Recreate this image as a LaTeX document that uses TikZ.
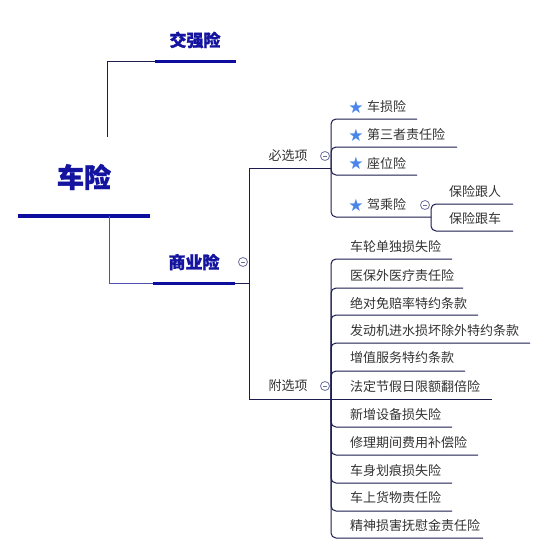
\documentclass[tikz,border=0pt]{standalone}
\usepackage{fontspec}
\newfontfamily\cjk{Noto Sans CJK SC}[BoldFeatures={FakeBold=1.2}]
\newfontfamily\symfont{DejaVu Sans}
\definecolor{linec}{HTML}{1C1C4E}
\definecolor{barc}{HTML}{0E0E9E}
\definecolor{mainc}{HTML}{1414A0}
\definecolor{textc}{HTML}{333333}
\definecolor{starc}{HTML}{4A86E8}
\definecolor{circc}{HTML}{6E6E9E}
\definecolor{lowc}{HTML}{5050B0}
\tikzset{
  conn/.style={draw=linec, line width=1pt},
  rc/.style={conn, rounded corners=5pt},
  bar/.style={draw=barc, line width=3pt},
  mainlbl/.style={inner sep=0pt, text=mainc, font=\cjk\bfseries\fontsize{17}{17}\selectfont},
  leaf/.style={inner sep=0pt, anchor=west, text=textc, font=\cjk\fontsize{13}{13}\selectfont},
  starlbl/.style={inner sep=0pt, text=starc, font=\symfont\fontsize{17}{17}\selectfont},
  foldc/.style={circle, draw=circc, line width=0.8pt, fill=white, minimum size=9pt, inner sep=0pt,
    path picture={\draw[circc, line width=0.8pt] ([xshift=-2.2pt]path picture bounding box.center) -- ([xshift=2.2pt]path picture bounding box.center);}}
}
\begin{document}
\begin{tikzpicture}[x=1pt,y=-1pt]
\useasboundingbox[fill=white] (0,0) rectangle (547,555);

% root
\node[inner sep=0pt, text=mainc, font=\cjk\bfseries\fontsize{27}{27}\selectfont] (root) at (84,177) {车险};
\coordinate (rootL) at (18,216);
\coordinate (rootR) at (150,216);
\coordinate (rootTop) at (107,137);
\coordinate (rootJ) at (109,216);
\draw[draw=barc, line width=4pt] (rootL) -- (rootR);

% 交强险
\node[mainlbl] (jq) at (195,40) {交强险};
\coordinate (jqL) at (155,61);
\coordinate (jqR) at (236,61);
\draw[conn] (rootTop) |- (jqL);
\draw[bar] (jqL) -- (jqR);

% 商业险
\node[mainlbl] (sy) at (194,262) {商业险};
\coordinate (syL) at (153,283);
\coordinate (syR) at (235,283);
\draw[draw=lowc, line width=1pt] (rootJ) |- (syL);
\draw[bar] (syL) -- (syR);
\node[foldc] (syfold) at (243,262) {};

% bus
\coordinate (busM) at (249,283);
\coordinate (bxA) at (249,168);
\coordinate (bxB) at (249,399);
\coordinate (jA) at (331,168);
\coordinate (jB) at (331,399);
\draw[conn] (syR) -- (busM);
\draw[conn] (jA) -- (bxA) -- (bxB) -- (jB);

\node[inner sep=0pt, text=textc, font=\cjk\fontsize{13}{13}\selectfont] (bx) at (288,156) {必选项};
\node[foldc] (bxfold) at (325,156) {};
\node[inner sep=0pt, text=textc, font=\cjk\fontsize{13}{13}\selectfont] (fx) at (288,386) {附选项};
\node[foldc] (fxfold) at (325,386) {};

% required items
\node[starlbl] (s1) at (356,107) {★};
\node[leaf] (c1) at (367,107) {车损险};
\coordinate (c1e) at (417,119);
\draw[rc] (jA) |- (c1e);

\node[starlbl] (s2) at (356,135) {★};
\node[leaf] (c2) at (367,135) {第三者责任险};
\coordinate (c2e) at (457,147);
\draw[rc] (jA) |- (c2e);

\node[starlbl] (s3) at (356,163) {★};
\node[leaf] (c3) at (367,163) {座位险};
\coordinate (c3e) at (417,175);
\draw[rc] (jA) |- (c3e);

\node[starlbl] (s4) at (356,205) {★};
\node[leaf] (c4) at (367,205) {驾乘险};
\coordinate (c4e) at (431,217);
\draw[rc] (jA) |- (c4e);
\node[foldc] (c4fold) at (425,205) {};

\node[leaf] (d1) at (449,192) {保险跟人};
\coordinate (d1e) at (513,204);
\draw[rc] (c4e) |- (d1e);
\node[leaf] (d2) at (449,219) {保险跟车};
\coordinate (d2e) at (513,231);
\draw[rc] (c4e) |- (d2e);

% optional items
\node[leaf] (o1) at (350,247) {车轮单独损失险};
\coordinate (o1e) at (452,259);
\draw[rc] (jB) |- (o1e);

\node[leaf] (o2) at (350,276) {医保外医疗责任险};
\coordinate (o2e) at (463,288);
\draw[rc] (jB) |- (o2e);

\node[leaf] (o3) at (350,303) {绝对免赔率特约条款};
\coordinate (o3e) at (478,315);
\draw[rc] (jB) |- (o3e);

\node[leaf] (o4) at (350,331) {发动机进水损坏除外特约条款};
\coordinate (o4e) at (530,343);
\draw[rc] (jB) |- (o4e);

\node[leaf] (o5) at (350,358) {增值服务特约条款};
\coordinate (o5e) at (465,371);
\draw[rc] (jB) |- (o5e);

\node[leaf] (o6) at (350,387) {法定节假日限额翻倍险};
\coordinate (o6e) at (492,399);
\draw[conn] (jB) -- (o6e);

\node[leaf] (o7) at (350,415) {新增设备损失险};
\coordinate (o7e) at (452,427);
\draw[rc] (jB) |- (o7e);

\node[leaf] (o8) at (350,443) {修理期间费用补偿险};
\coordinate (o8e) at (478,455);
\draw[rc] (jB) |- (o8e);

\node[leaf] (o9) at (350,471) {车身划痕损失险};
\coordinate (o9e) at (452,483);
\draw[rc] (jB) |- (o9e);

\node[leaf] (o10) at (350,498) {车上货物责任险};
\coordinate (o10e) at (452,511);
\draw[rc] (jB) |- (o10e);

\node[leaf] (o11) at (350,526) {精神损害抚慰金责任险};
\coordinate (o11e) at (483,538);
\draw[rc] (jB) |- (o11e);
\end{tikzpicture}
\end{document}
